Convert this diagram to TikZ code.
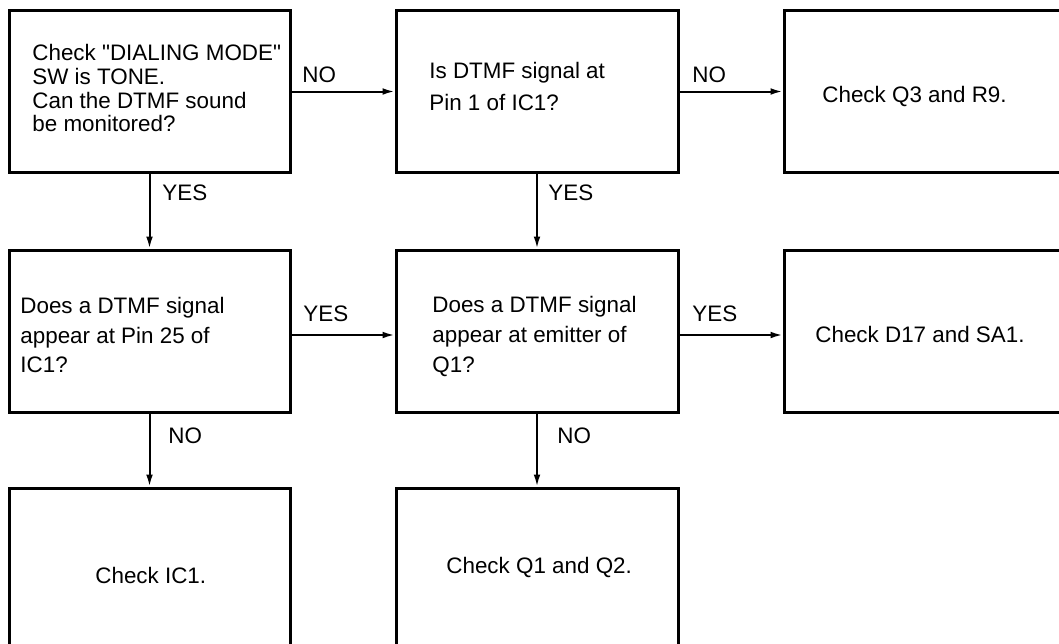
\documentclass[tikz,border=0pt]{standalone}
\usepackage{fontspec}
\setmainfont{Liberation Sans}[Ligatures=TeXOff]
\usetikzlibrary{arrows.meta}
\begin{document}
\begin{tikzpicture}[x=0.5pt,y=-0.5pt,
    box/.style={draw,line width=1.5pt,minimum width=#1,minimum height=81pt,inner sep=0pt},
    txt/.style={inner sep=0pt,align=left,font=\fontsize{11.2}{15}\selectfont},
    lbl/.style={inner sep=0pt,anchor=base west,font=\fontsize{11.2}{13}\selectfont},
    arr/.style={line width=1pt,-{Latex[length=6pt,width=3.4pt]}}]
        \clip (0,0) rectangle (1059,643);
        % boxes
        \node[box=140.5pt] (sw)   at (149.5,91.5) {};
        \node[box=141pt]   (pin1) at (537,91.5) {};
        \node[box=139pt]   (qr)   at (923,91.5) {};
        \node[box=140.5pt] (pin25) at (149.5,331) {};
        \node[box=141pt]   (emit) at (537,331) {};
        \node[box=139pt]   (dsa)  at (923,331) {};
        \node[box=140.5pt] (ic)   at (149.5,569) {};
        \node[box=141pt]   (qq)   at (537,569) {};
        % texts
        \node[txt,anchor=north west,font=\fontsize{11.2}{11.85}\selectfont] (swtext) at (32,44)
            {Check "DIALING MODE"\\SW is TONE.\\Can the DTMF sound\\be monitored?};
        \node[txt,anchor=north west,font=\fontsize{11.2}{15.9}\selectfont] (pin1text) at (429,62)
            {Is DTMF signal at\\Pin 1 of IC1?};
        \node[txt,anchor=base west] (qrtext) at (822,102) {Check Q3 and R9.};
        \node[txt,anchor=north west,font=\fontsize{11.2}{14.8}\selectfont] (pin25text) at (20,297)
            {Does a DTMF signal\\appear at Pin 25 of\\IC1?};
        \node[txt,anchor=north west,font=\fontsize{11.2}{15}\selectfont] (emittext) at (432,296)
            {Does a DTMF signal\\appear at emitter of\\Q1?};
        \node[txt,anchor=base west] (dsatext) at (815,342) {Check D17 and SA1.};
        \node[txt,anchor=base west] (ictext) at (95,583) {Check IC1.};
        \node[txt,anchor=base west] (qqtext) at (446,573) {Check Q1 and Q2.};
        % connectors
        \draw[arr] (sw) -- (pin1);
        \draw[arr] (pin1) -- (qr);
        \draw[arr] (sw) -- (pin25);
        \draw[arr] (pin1) -- (emit);
        \draw[arr] ([yshift=-2pt]pin25.east) -- ([yshift=-2pt]emit.west);
        \draw[arr] ([yshift=-2pt]emit.east) -- ([yshift=-2pt]dsa.west);
        \draw[arr] (pin25) -- (ic);
        \draw[arr] (emit) -- (qq);
        % labels
        \node[lbl] (no1)  at (302,82) {NO};
        \node[lbl] (no2)  at (692,82) {NO};
        \node[lbl] (yes1) at (162,200) {YES};
        \node[lbl] (yes2) at (548,200) {YES};
        \node[lbl] (yes3) at (303,321) {YES};
        \node[lbl] (yes4) at (692,321) {YES};
        \node[lbl] (no3)  at (168,443) {NO};
        \node[lbl] (no4)  at (557,443) {NO};
    \end{tikzpicture}
\end{document}
